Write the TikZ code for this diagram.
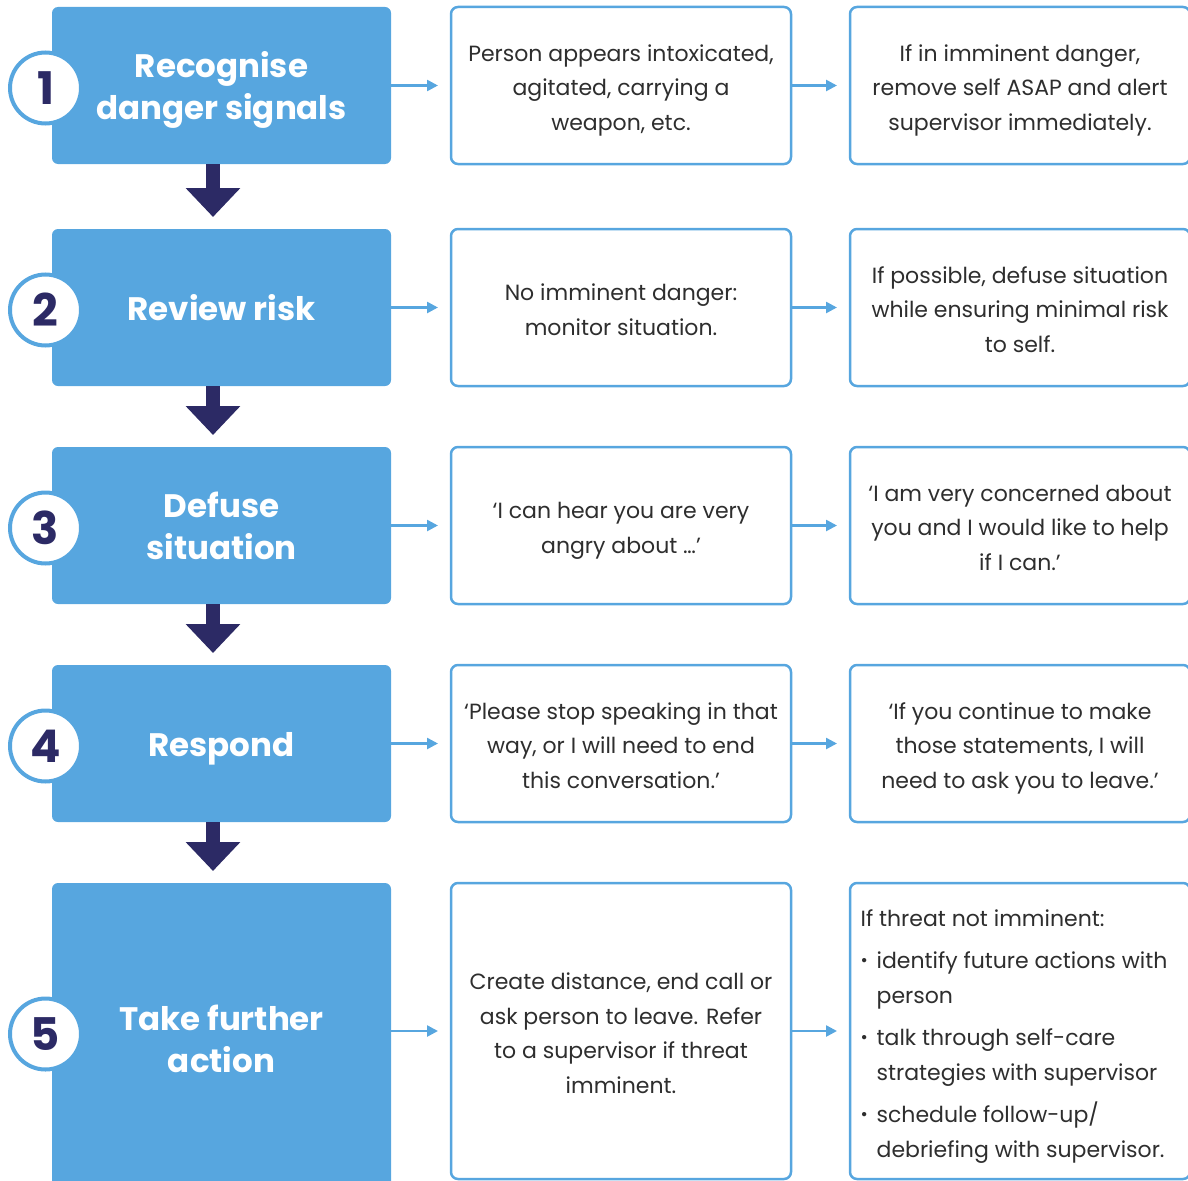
\documentclass[tikz,border=0pt]{standalone}
\usepackage{fontspec}
\setmainfont{Poppins}
\usetikzlibrary{arrows.meta}

\definecolor{stepblue}{HTML}{57A6DF}
\definecolor{stepnavy}{HTML}{2C2A65}
\definecolor{bodygray}{HTML}{2E2E2E}

% text blocks, pushed a little down inside their boxes
\newcommand{\headtext}[1]{\raisebox{-5pt}[\height][\depth]{\begin{tabular}{@{}c@{}}#1\end{tabular}}}
\newcommand{\infotext}[1]{\raisebox{-3.5pt}[\height][\depth]{\begin{tabular}{@{}c@{}}#1\end{tabular}}}
\newcommand{\listdot}{\makebox[16pt][l]{\raisebox{0.15ex}{\scalebox{0.8}{\textbullet}}}}

\tikzset{
  stepbox/.style={fill=stepblue, rounded corners=6pt, minimum width=339pt, minimum height=157pt,
    inner sep=0pt, outer sep=0pt, text=white,
    font=\fontsize{32.5}{42}\selectfont\bfseries},
  infobox/.style={draw=stepblue, line width=2.5pt, fill=white, rounded corners=7pt,
    minimum width=340pt, minimum height=157pt, inner sep=0pt, outer sep=0pt,
    text=bodygray, font=\fontsize{22}{34.5}\selectfont},
  numcircle/.style={circle, draw=stepblue, line width=4pt, fill=white, minimum size=71pt,
    inner sep=0pt, text=stepnavy, font=\fontsize{45}{45}\selectfont\bfseries},
  sidearrow/.style={stepblue, line width=2.5pt, -{Triangle[width=11pt,length=11pt]}, shorten >=13pt},
  downarrow/.style={stepnavy, line width=14pt, -{Triangle[width=53pt,length=29pt]}, shorten >=12pt},
}

\begin{document}
\begin{tikzpicture}[x=1pt, y=-1pt]

\useasboundingbox (0,0) rectangle (1188,1180);
\clip (0,0) rectangle (1188,1180);

% steps
\node [stepbox] (s1) at (221.5,85.5) {\headtext{Recognise\\danger signals}};
\node [stepbox] (s2) at (221.5,307.5) {\headtext{Review risk}};
\node [stepbox] (s3) at (221.5,525.5) {\headtext{Defuse\\situation}};
\node [stepbox] (s4) at (221.5,743.5) {\headtext{Respond}};
\node [stepbox, minimum height=310pt, anchor=north] (s5) at (221.5,883) {\headtext{Take further\\action}};

\node [numcircle] (c1) at (45.5,88) {1};
\node [numcircle] (c2) at (45.5,310) {2};
\node [numcircle] (c3) at (45.5,528) {3};
\node [numcircle] (c4) at (45.5,746) {4};
\node [numcircle] (c5) at (45.5,1034) {5};

% first column
\node [infobox] (a1) at (621,85.5) {\infotext{Person appears intoxicated,\\agitated, carrying a\\weapon, etc.}};
\node [infobox] (a2) at (621,307.5) {\infotext{No imminent danger:\\monitor situation.}};
\node [infobox] (a3) at (621,525.5) {\infotext{‘I can hear you are very\\angry about …’}};
\node [infobox] (a4) at (621,743.5) {\infotext{‘Please stop speaking in that\\way, or I will need to end\\this conversation.’}};
\node [infobox, minimum height=296pt] (a5) at (621,1031) {\infotext{Create distance, end call or\\ask person to leave. Refer\\to a supervisor if threat\\imminent.}};

% second column
\node [infobox] (b1) at (1020,85.5) {\infotext{If in imminent danger,\\remove self ASAP and alert\\supervisor immediately.}};
\node [infobox] (b2) at (1020,307.5) {\infotext{If possible, defuse situation\\while ensuring minimal risk\\to self.}};
\node [infobox] (b3) at (1020,525.5) {\infotext{‘I am very concerned about\\you and I would like to help\\if I can.’}};
\node [infobox] (b4) at (1020,743.5) {\infotext{‘If you continue to make\\those statements, I will\\need to ask you to leave.’}};
\node [infobox, minimum height=296pt, font=\fontsize{22}{35}\selectfont] (b5) at (1020,1031)
  {\hspace*{-12pt}\raisebox{-3.5pt}[\height][\depth]{\begin{tabular}{@{}l@{}}
   If threat not imminent:\\[7pt]
   \listdot identify future actions with\\
   \hspace*{16pt}person\\[7pt]
   \listdot talk through self-care\\
   \hspace*{16pt}strategies with supervisor\\[7pt]
   \listdot schedule follow-up/\\
   \hspace*{16pt}debriefing with supervisor.
   \end{tabular}}};

% connectors
\draw[sidearrow] (s1.east) -- (a1.west);
\draw[sidearrow] (a1.east) -- (b1.west);
\draw[sidearrow] (s2.east) -- (a2.west);
\draw[sidearrow] (a2.east) -- (b2.west);
\draw[sidearrow] (s3.east) -- (a3.west);
\draw[sidearrow] (a3.east) -- (b3.west);
\draw[sidearrow] (s4.east) -- (a4.west);
\draw[sidearrow] (a4.east) -- (b4.west);
\draw[sidearrow] (s5.east |- a5.west) -- (a5.west);
\draw[sidearrow] (a5.east) -- (b5.west);

\draw[downarrow] ([xshift=-8.5pt]s1.south) -- ([xshift=-8.5pt]s2.north);
\draw[downarrow] ([xshift=-8.5pt]s2.south) -- ([xshift=-8.5pt]s3.north);
\draw[downarrow] ([xshift=-8.5pt]s3.south) -- ([xshift=-8.5pt]s4.north);
\draw[downarrow] ([xshift=-8.5pt]s4.south) -- ([xshift=-8.5pt]s5.north);

\end{tikzpicture}
\end{document}
